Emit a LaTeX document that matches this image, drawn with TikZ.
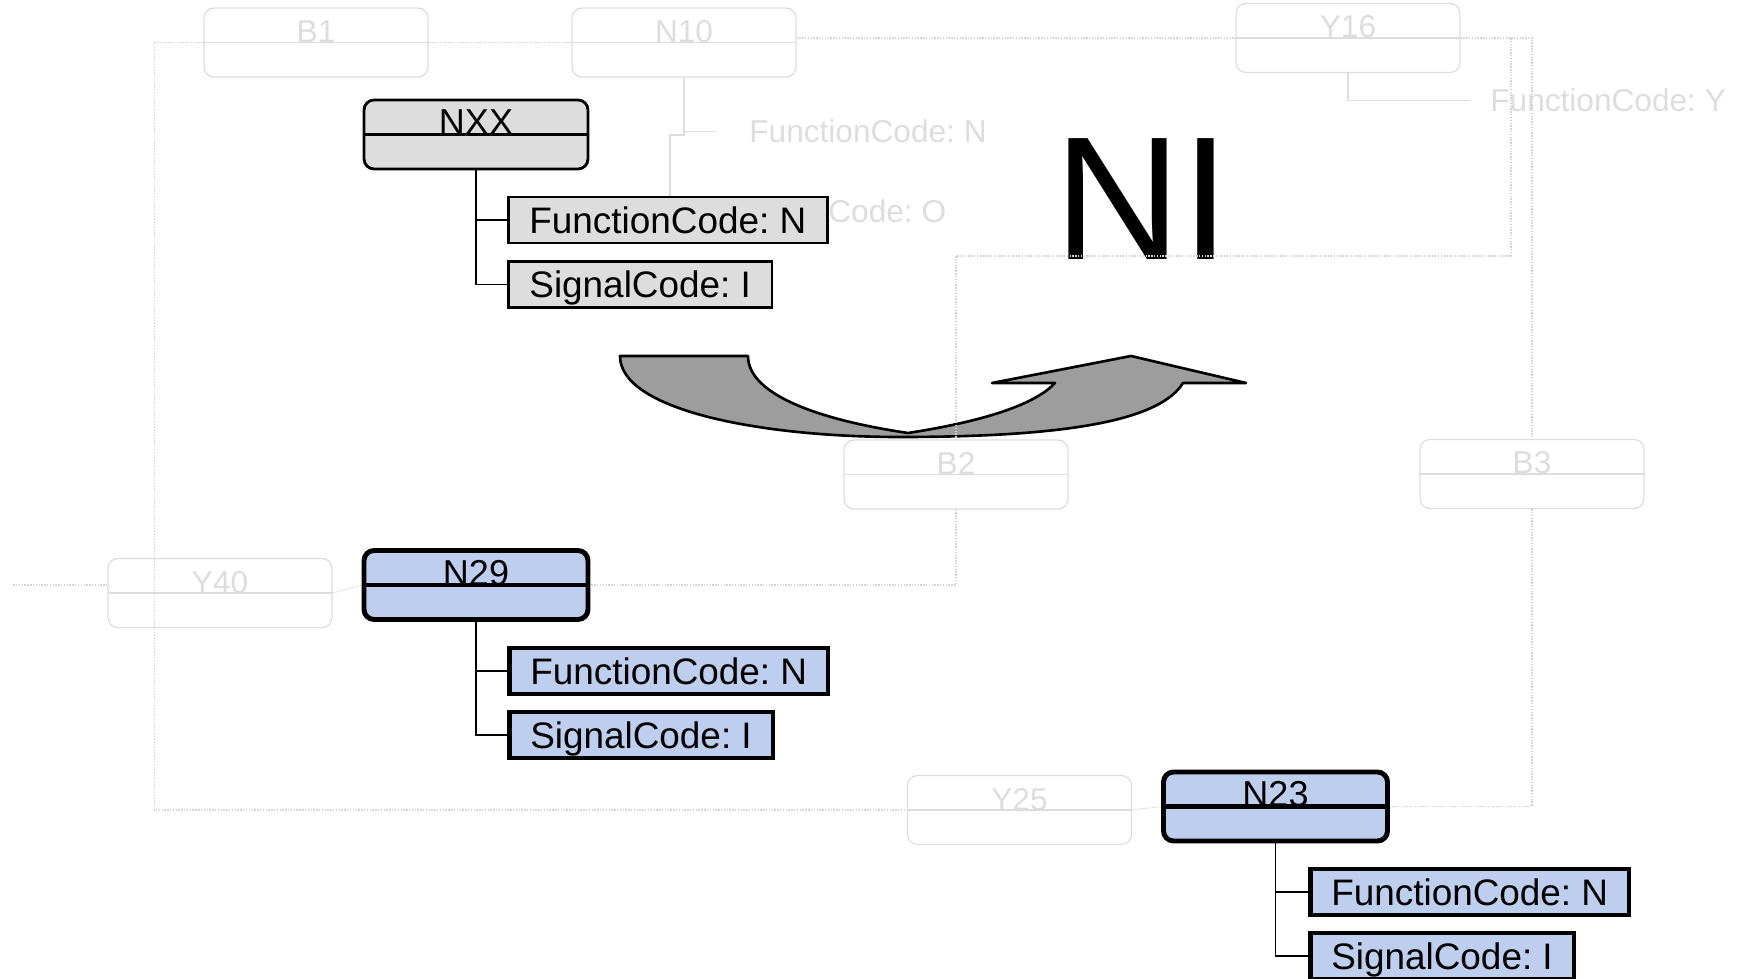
\documentclass[tikz,border=0pt]{standalone}
\usepackage{fontspec}
\setmainfont{Liberation Sans}
\usetikzlibrary{calc}
\definecolor{ghost}{RGB}{221,221,221}
\definecolor{dotgray}{RGB}{212,212,212}
\definecolor{nxxfill}{RGB}{221,221,221}
\definecolor{nodeblue}{RGB}{190,206,238}
\definecolor{arrowgray}{RGB}{157,157,157}
\frenchspacing

\begin{document}
\begin{tikzpicture}[x=0.02cm,y=-0.02cm,
    entity/.style={draw, rounded corners=0.2cm, minimum width=4.48cm, minimum height=1.38cm, inner sep=0pt, text height=10pt, text depth=10pt,
      path picture={\draw[#1] (path picture bounding box.west) -- (path picture bounding box.east);}, #1},
    ghostbox/.style={draw=ghost, line width=0.7pt, text=ghost, font=\fontsize{18pt}{18pt}\selectfont},
    greybox/.style={draw=black, line width=1.6pt, fill=nxxfill, font=\fontsize{20.5pt}{20.5pt}\selectfont},
    bluebox/.style={draw=black, line width=2.8pt, fill=nodeblue, font=\fontsize{20.5pt}{20.5pt}\selectfont},
    attr/.style={draw, anchor=west, minimum height=0.92cm, inner xsep=0.42cm, inner ysep=0pt, text height=15pt, text depth=0pt, font=\fontsize{21pt}{21pt}\selectfont},
    greyattr/.style={attr, line width=1.6pt, fill=nxxfill},
    blueattr/.style={attr, line width=2.6pt, fill=nodeblue},
    ghosttext/.style={anchor=west, inner sep=0pt, text height=12.9pt, text depth=0pt, text=ghost, font=\fontsize{18pt}{18pt}\selectfont},
    ghostline/.style={draw=ghost, line width=1.1pt},
    link/.style={draw=dotgray, line width=0.6pt, dash pattern=on 0.8pt off 0.8pt},
    tree/.style={draw=black, line width=1.1pt},
    bigarrow/.style={fill=arrowgray, draw=black, line width=1.5pt, line join=round}]
  \useasboundingbox (0,0) rectangle (1747,979);

  \node[anchor=base, font=\fontsize{100pt}{100pt}\selectfont] (ni) at (1142,260) {NI};

  \filldraw[bigarrow] (620,356) -- (748,356) .. controls (748,395) and (820,420) .. (908,433)
    .. controls (960,425) and (1030,410) .. (1055,383) -- (992,383) -- (1131,356) -- (1246,383) -- (1183,383)
    .. controls (1160,420) and (1070,437) .. (900,437) .. controls (760,437) and (620,410) .. (620,356) -- cycle;

  \node[entity=ghostbox] (b1) at (316,42.5) {B1};
  \node[entity=ghostbox] (n10) at (684,42.5) {N10};
  \node[entity=ghostbox] (y16) at (1348,38) {Y16};
  \node[entity=ghostbox] (b2) at (956,474.5) {B2};
  \node[entity=ghostbox] (b3) at (1532,474) {B3};
  \node[entity=ghostbox] (y40) at (220,593) {Y40};
  \node[entity=ghostbox] (y25) at (1019.5,810) {Y25};

  \node[ghosttext] (fcn10) at (749,131.5) {FunctionCode: N};
  \node[ghosttext] (codeo) at (828,211.5) {Code: O};
  \node[ghosttext] (fcy16) at (1490,100.5) {FunctionCode: Y};
  \coordinate (n10end) at (670,200);

  \draw[ghostline] (n10.south) |- ([xshift=-0.68cm]fcn10.west);
  \draw[ghostline] (n10.south) -- ++(0,57) -| (n10end);
  \draw[ghostline] (y16.south) |- ([xshift=-0.4cm]fcy16.west);

  \node[entity=greybox] (nxx) at (476,134.5) {NXX};
  \node[greyattr] (nxxfc) at (507,220) {FunctionCode: N};
  \node[greyattr] (nxxsc) at (507,284.5) {SignalCode: I};

  \node[entity=bluebox] (n29) at (476,585) {N29};
  \node[blueattr] (n29fc) at (507,671) {FunctionCode: N};
  \node[blueattr] (n29sc) at (507,735) {SignalCode: I};

  \node[entity=bluebox] (n23) at (1275.5,806.5) {N23};
  \node[blueattr] (n23fc) at (1308,892) {FunctionCode: N};
  \node[blueattr] (n23sc) at (1308,956) {SignalCode: I};

  \draw[link] (b1.west) -- ++(-49,0) |- (y25.west);
  \draw[link] (b1.east) -- (n10.west);
  \draw[link] (n10.east |- y16.west) -- (y16.west);
  \draw[link] (y16.east) -- (1511,38) |- (956,256) -- (b2.north);
  \draw[link] (y16.east) -| (b3.north);
  \draw[link] (b2.south) |- (n29.east);
  \draw[link] (y40.east) -- (n29.west);
  \draw[link] (y40.west |- n29.west) -- ++(-95,0);
  \draw[link] (b3.south) |- (n23.east);
  \draw[link] (y25.east) -- (n23.west);

  \draw[tree] (nxx.south) |- (nxxfc.west);
  \draw[tree] (nxx.south) |- (nxxsc.west);
  \draw[tree] (n29.south) |- (n29fc.west);
  \draw[tree] (n29.south) |- (n29sc.west);
  \draw[tree] (n23.south) |- (n23fc.west);
  \draw[tree] (n23.south) |- (n23sc.west);
\end{tikzpicture}
\end{document}
